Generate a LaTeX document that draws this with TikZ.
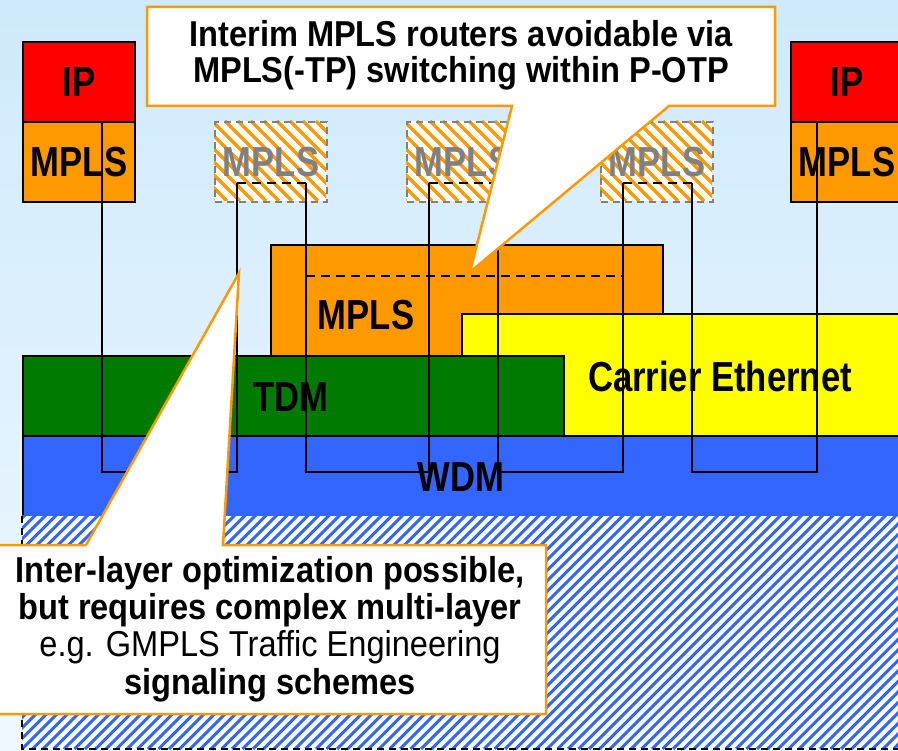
\documentclass[tikz,border=0pt]{standalone}
\usepackage{fontspec}
\setmainfont{Liberation Sans}
\newfontfamily\labelfont{Liberation Sans}[FakeStretch=0.825]
\newfontfamily\notefont{Liberation Sans}[FakeStretch=0.905]
\usepackage{tikz}

\definecolor{ipred}{RGB}{255,0,0}
\definecolor{mplsorange}{RGB}{255,153,0}
\definecolor{tdmgreen}{RGB}{0,122,0}
\definecolor{ceyellow}{RGB}{255,255,0}
\definecolor{wdmblue}{RGB}{51,102,255}
\definecolor{skytop}{RGB}{207,234,252}
\definecolor{skybot}{RGB}{240,248,255}
\definecolor{ghostgray}{RGB}{128,128,128}

\begin{document}
\begin{tikzpicture}[x=1pt,y=-1pt,
    labelfont/.style={font=\labelfont\bfseries\fontsize{42}{42}\selectfont},
    box/.style={labelfont,draw=black,line width=2.2pt,anchor=north west,
      minimum width=112pt,minimum height=80pt,inner sep=0pt},
    ghost/.style={box,draw=ghostgray,dash pattern=on 7pt off 5pt,line width=2pt,text=ghostgray},
    layer/.style={draw=black,line width=2pt,anchor=north west,inner sep=0pt},
    layertext/.style={labelfont,anchor=base,inner sep=0pt},
    link/.style={black,line width=1.8pt},
    innerdash/.style={black,line width=1.8pt,dash pattern=on 9pt off 6pt},
    callout/.style={fill=white,draw=mplsorange,line width=2.5pt},
    notetext/.style={align=center,inner sep=0pt,
      font=\notefont\bfseries\fontsize{36}{36}\selectfont}]
  \useasboundingbox (0,0) rectangle (898,751);
  \clip (0,0) rectangle (898,751);
  \shade[top color=skytop,bottom color=skybot] (0,0) rectangle (898,751);

  \node[layer,fill=mplsorange,minimum width=392pt,minimum height=111pt] (otp) at (270,244) {};
  \node[layer,fill=ceyellow,minimum width=450pt,minimum height=122pt] (ce) at (461,313) {};
  \node[layer,fill=tdmgreen,minimum width=541pt,minimum height=80pt] (tdm) at (22,355) {};
  \node[layer,fill=wdmblue,minimum width=890pt,minimum height=81pt] (wdm) at (22,435) {};

  \begin{scope}
    \clip (22,516) rectangle (900,749);
    \fill[white] (22,516) rectangle (900,749);
    \foreach \k in {0,...,112}
      \draw[wdmblue,line width=3pt] (\k*10.5-230,749) -- ++(260,-260);
  \end{scope}
  \draw[dashed,line width=2pt,dash pattern=on 7pt off 5pt] (22,516) -- (22,749) -- (905,749);

  \node[box,fill=ipred] (ipL) at (22,41) {IP};
  \node[box,fill=mplsorange] (mplsL) at (22,121) {MPLS};
  \node[box,fill=ipred] (ipR) at (790,41) {IP};
  \node[box,fill=mplsorange] (mplsR) at (790,121) {MPLS};

  \foreach \n/\bx in {1/214,2/406,3/600} {
    \begin{scope}
      \clip (\bx,121) rectangle ++(112,80);
      \fill[white] (\bx,121) rectangle ++(112,80);
      \foreach \k in {0,...,15}
        \draw[mplsorange,line width=3.5pt] (\bx-80+\k*13,121) -- ++(80,80);
    \end{scope}
    \node[ghost] (hb\n) at (\bx,121) {MPLS};
    \coordinate (hb\n-l) at ([xshift=23pt,yshift=-62pt]hb\n.north west);
    \coordinate (hb\n-r) at ([xshift=92pt,yshift=-62pt]hb\n.north west);
  }
  \coordinate (mplsL-t) at ([xshift=80pt]mplsL.north west);
  \coordinate (mplsR-t) at ([xshift=27pt]mplsR.north west);
  \coordinate (bot) at (0,472);
  \coordinate (otpd) at (0,276);

  \node[layertext] (otplabel) at (366,330) {MPLS};
  \node[layertext] (tdmlabel) at (291,412) {TDM};
  \node[layertext] (celabel) at (720,392) {Carrier Ethernet};

  \foreach \s/\t in {mplsL-t/hb1-l,hb1-r/hb2-l,hb2-r/hb3-l,hb3-r/mplsR-t}
    \draw[link] (\s) -- (\s |- bot) -| (\t);
  \foreach \n in {1,2,3}
    \draw[innerdash] (hb\n-l) -- (hb\n-r);
  \draw[innerdash] (hb1-r |- otpd) -- (hb3-l |- otpd);

  \node[layertext] (wdmlabel) at (461,492) {WDM};

  \draw[callout] (147,7) -- (775,7) -- (775,106) -- (669,106) -- (470,272)
    -- (512,106) -- (147,106) -- cycle;
  \node[notetext] (topnote) at (461,55)
    {Interim MPLS routers avoidable via\\MPLS(-TP) switching within P-OTP};

  \draw[callout] (-10,545) -- (86,545) -- (239,273) -- (223,545) -- (546,545)
    -- (546,714) -- (-10,714) -- cycle;
  \node[notetext,font=\notefont\bfseries\fontsize{36}{37.3}\selectfont] (botnote) at (270,629)
    {Inter-layer optimization possible,\\but requires complex multi-layer\\
     {\mdseries e.g. GMPLS Traffic Engineering}\\signaling schemes};
\end{tikzpicture}
\end{document}
